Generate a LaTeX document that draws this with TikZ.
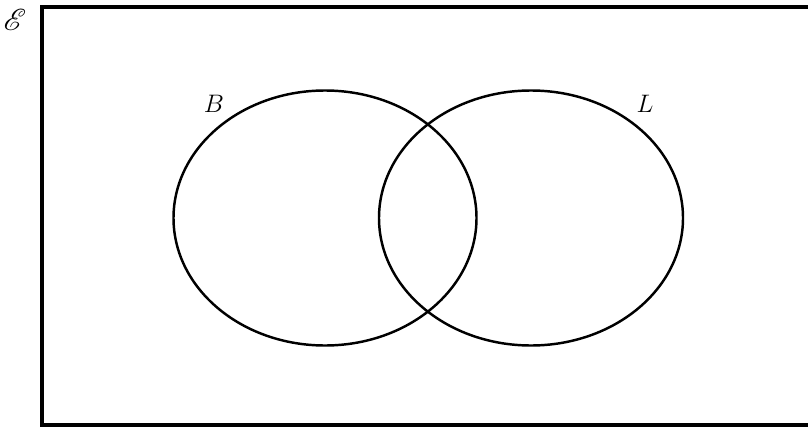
\documentclass[tikz,border=0pt]{standalone}
\usepackage{mathrsfs}
\begin{document}
\begin{tikzpicture}[x=0.02cm,y=-0.02cm]
    \useasboundingbox (0,0) rectangle (808,426);
    \clip (0,0) rectangle (808,426);
    \draw[line width=2pt] (42,7) rectangle (830,425);
    \node (univ) at (15,20) {\LARGE $\mathscr{E}$};
    \draw[line width=1.4pt] (325,218) ellipse [x radius=151.5, y radius=127.5];
    \draw[line width=1.4pt] (531,218) ellipse [x radius=152, y radius=127.5];
    \node (setB) at (214,104) {\Large $B$};
    \node (setL) at (645,104) {\Large $L$};
  \end{tikzpicture}
\end{document}
